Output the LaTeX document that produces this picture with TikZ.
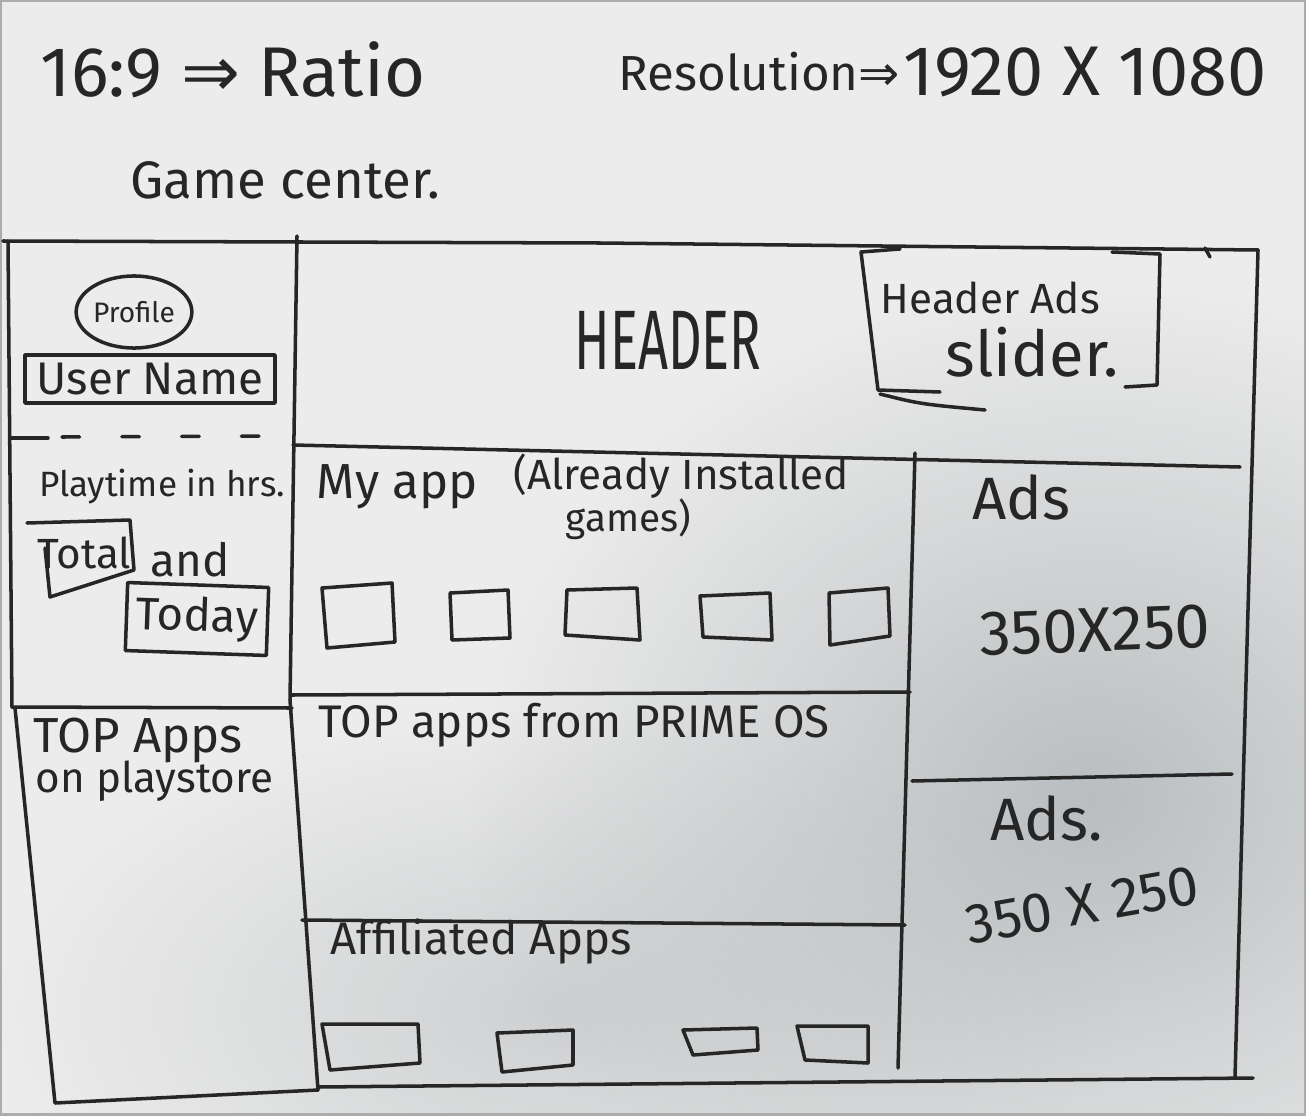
\documentclass[tikz,border=0pt]{standalone}
\usepackage{fontspec}
\setmainfont{Fira Sans}
\newfontfamily\symfont{DejaVu Sans}
\usetikzlibrary{shapes.geometric,fadings}
\definecolor{paper}{HTML}{ECECEC}
\definecolor{shadow}{HTML}{A9AEB1}
\definecolor{ink}{HTML}{262626}
\newcommand\fsz[1]{\fontsize{#1}{#1}\selectfont}
\tikzfading[name=softspot, inner color=transparent!0, outer color=transparent!100]
\begin{document}
\begin{tikzpicture}[x=0.01cm,y=-0.01cm,
  pen/.style={draw=ink, line width=1pt, line cap=round, line join=round},
  hand/.style={text=ink, inner sep=0pt},
  lefttext/.style={hand, anchor=west},
]
\useasboundingbox (0,0) rectangle (1306,1115);
% paper with soft shadows
\fill[paper] (0,0) rectangle (1306,1115);
\begin{scope}
  \clip (0,0) rectangle (1306,1115);
  \fill[shadow, opacity=0.75, path fading=softspot] (1090,800) ellipse [x radius=620, y radius=520];
  \fill[shadow, opacity=0.45, path fading=softspot] (560,1010) ellipse [x radius=560, y radius=300];
\end{scope}
\draw[gray!65, line width=0.8pt] (0.5,0.5) rectangle (1305.5,1114.5);

% title notes
\node[lefttext, font=\fsz{20}] (ratio) at (40,70) {16:9 {\symfont ⇒} Ratio};
\node[lefttext, font=\fsz{14}] (res) at (618,72) {Resolution{\symfont ⇒}};
\node[lefttext, font=\fsz{20}] (resnum) at (903,72) {1920 X 1080};
\node[lefttext, font=\fsz{15}] (game) at (130,180) {Game center.};

% outer frame and section lines
\draw[pen] (3,241) -- (600,243) -- (1258,250);
\draw[pen] (1205,248) -- (1210,257);
\draw[pen] (8,241) -- (12,707);
\draw[pen] (297,236) -- (290,700) -- (318,1090);
\draw[pen] (293,445) -- (1240,467);
\draw[pen] (10,438) -- (48,438);
\draw[pen, dash pattern=on 5pt off 12pt] (62,437) -- (283,436);
\draw[pen] (12,707) -- (292,708);
\draw[pen] (15,708) -- (55,1103) -- (318,1090);
\draw[pen] (915,453) -- (898,1068);
\draw[pen] (291,695) -- (910,692);
\draw[pen] (302,920) -- (905,925);
\draw[pen] (318,1087) -- (1253,1078);
\draw[pen] (1258,250) -- (1235,1077);
\draw[pen] (912,781) -- (1232,774);

% left column: profile and playtime
\node[pen, ellipse, minimum width=1.1cm, minimum height=0.72cm, inner sep=0pt,
      text=ink, font=\fsz{8}] (profile) at (134,312) {Profile};
\node[pen, minimum width=2.5cm, minimum height=0.48cm, inner sep=0pt,
      text=ink, font=\fsz{13}] (user) at (150,379) {User Name};
\node[hand, font=\fsz{10}] (play) at (162,487) {Playtime in hrs.};
\node[hand, font=\fsz{12}] (total) at (84,553) {Total};
\draw[pen] (27,523) -- (130,520) -- (134,570) -- (50,597) -- (45,548);
\node[hand, font=\fsz{13}] (and) at (190,560) {and};
\node[pen, minimum width=1.41cm, minimum height=0.68cm, inner sep=0pt, rotate=-2,
      text=ink, font=\fsz{13}] (today) at (197,619) {Today};

% left column: store list
\node[lefttext, font=\fsz{14}] (topapps) at (33,740) {TOP Apps};
\node[lefttext, font=\fsz{12}] (playstore) at (35,781) {on playstore};

% header
\node[hand, font=\fsz{24}] (header) at (668,340) {\scalebox{0.62}[1]{HEADER}};
\draw[pen] (900,249) -- (861,252) -- (878,390) -- (940,392);
\draw[pen] (880,394) .. controls (920,404) .. (985,410);
\draw[pen] (1112,252) -- (1160,254) -- (1157,385) -- (1125,387);
\node[lefttext, font=\fsz{12}] (hads) at (880,298) {Header Ads};
\node[lefttext, font=\fsz{18}] (slider) at (945,352) {slider.};

% my apps
\node[lefttext, font=\fsz{14}] (myapp) at (316,487) {My app};
\node[lefttext, font=\fsz{12}] (inst) at (513,476) {(Already Installed};
\node[lefttext, font=\fsz{11}] (games) at (565,519) {games)};
\draw[pen] (322,588) -- (392,583) -- (395,642) -- (327,648) -- cycle;
\draw[pen] (450,593) -- (508,590) -- (510,638) -- (452,640) -- cycle;
\draw[pen] (567,590) -- (637,588) -- (640,640) -- (565,635) -- cycle;
\draw[pen] (700,596) -- (770,593) -- (772,640) -- (703,637) -- cycle;
\draw[pen] (829,593) -- (888,588) -- (890,636) -- (830,645) -- cycle;

% prime os list
\node[lefttext, font=\fsz{13}] (prime) at (318,725) {TOP apps from PRIME OS};

% affiliated apps
\node[lefttext, font=\fsz{13}] (affil) at (330,942) {Affiliated Apps};
\draw[pen] (322,1024) -- (418,1024) -- (420,1063) -- (330,1070) -- cycle;
\draw[pen] (497,1033) -- (573,1030) -- (573,1065) -- (502,1072) -- cycle;
\draw[pen] (683,1030) -- (757,1028) -- (758,1050) -- (693,1055) -- cycle;
\draw[pen] (797,1026) -- (868,1026) -- (868,1063) -- (805,1060) -- cycle;

% ad slots
\node[lefttext, font=\fsz{17}] (ads1) at (972,497) {Ads};
\node[hand, font=\fsz{18}, rotate=2] (size1) at (1095,630) {350X250};
\node[lefttext, font=\fsz{17}] (ads2) at (990,818) {Ads.};
\node[hand, font=\fsz{16}, rotate=10] (size2) at (1082,905) {350 X 250};
\end{tikzpicture}
\end{document}
